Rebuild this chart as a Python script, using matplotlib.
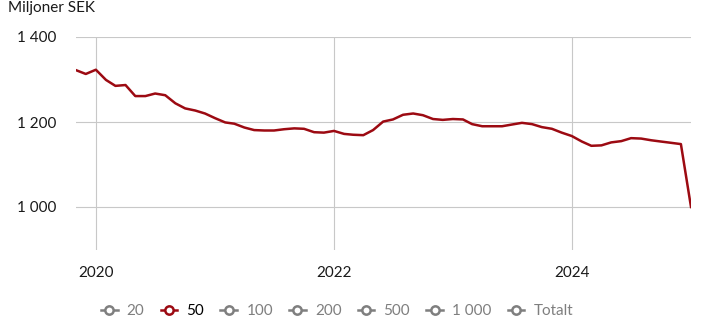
import matplotlib
matplotlib.use("Agg")
import matplotlib.pyplot as plt
import matplotlib.dates as mdates
from matplotlib.lines import Line2D
import pandas as pd

# monthly values, Nov 2019 .. Jan 2025 (Miljoner SEK)
months = pd.date_range("2019-11-01", "2025-01-01", freq="MS")
values_50 = [
    1322, 1313,
    1323, 1299, 1285, 1287, 1261, 1261, 1267, 1263, 1244, 1232, 1227, 1220,
    1209, 1199, 1196, 1187, 1181, 1180, 1180, 1183, 1185, 1184, 1176, 1175,
    1179, 1172, 1170, 1169, 1181, 1201, 1206, 1217, 1220, 1216, 1207, 1205,
    1207, 1206, 1195, 1190, 1190, 1190, 1194, 1198, 1195, 1188, 1184, 1175,
    1167, 1154, 1144, 1145, 1152, 1155, 1162, 1161, 1157, 1154, 1151, 1148,
    1000,
]
legend_labels = ["20", "50", "100", "200", "500", "1 000", "Totalt"]
active_label = "50"
y_ticks = [1000, 1200, 1400]
y_tick_labels = ["1 000", "1 200", "1 400"]
x_years = [2020, 2022, 2024]

RED = "#9c0a12"
GREY = "#7f7f7f"
TEXT = "#1a1a1a"

plt.rcParams["font.family"] = ["Lato", "DejaVu Sans"]

W, H = 701, 333
fig = plt.figure(figsize=(W / 100, H / 100), dpi=100)
left, right, top, bottom = 76, 691, 37, 249.5
ax = fig.add_axes([left / W, 1 - bottom / H, (right - left) / W, (bottom - top) / H])

ax.plot(months, values_50, color=RED, lw=1.8, solid_joinstyle="round")

ax.set_xlim(months[0], months[-1])
ax.set_ylim(900, 1400)
ax.set_yticks(y_ticks)
ax.set_yticklabels(y_tick_labels)
ax.set_xticks([pd.Timestamp(f"{y}-01-01") for y in x_years])
ax.xaxis.set_major_formatter(mdates.DateFormatter("%Y"))

ax.grid(True, color="#c8c8c8", lw=0.8)
ax.set_axisbelow(True)
for s in ax.spines.values():
    s.set_visible(False)
ax.tick_params(axis="both", length=0, labelsize=11, colors=TEXT)
ax.tick_params(axis="y", pad=14)
ax.tick_params(axis="x", pad=12)

fig.text(8 / W, 1 - 8 / H, "Miljoner SEK", fontsize=11, color=TEXT, va="center", ha="left")

handles = []
for lab in legend_labels:
    c = RED if lab == active_label else GREY
    handles.append(Line2D([0], [0], color=c, lw=1.8, marker="o", markersize=6,
                          markerfacecolor="white", markeredgecolor=c, markeredgewidth=1.8))
leg = fig.legend(handles, legend_labels, loc="center", bbox_to_anchor=(337 / W, 1 - 311 / H),
                 ncol=len(legend_labels), frameon=False, fontsize=11, handlelength=1.1,
                 handletextpad=0.6, columnspacing=1.05)
for t, lab in zip(leg.get_texts(), legend_labels):
    t.set_color("black" if lab == active_label else GREY)

fig.savefig("out.png", dpi=100)
